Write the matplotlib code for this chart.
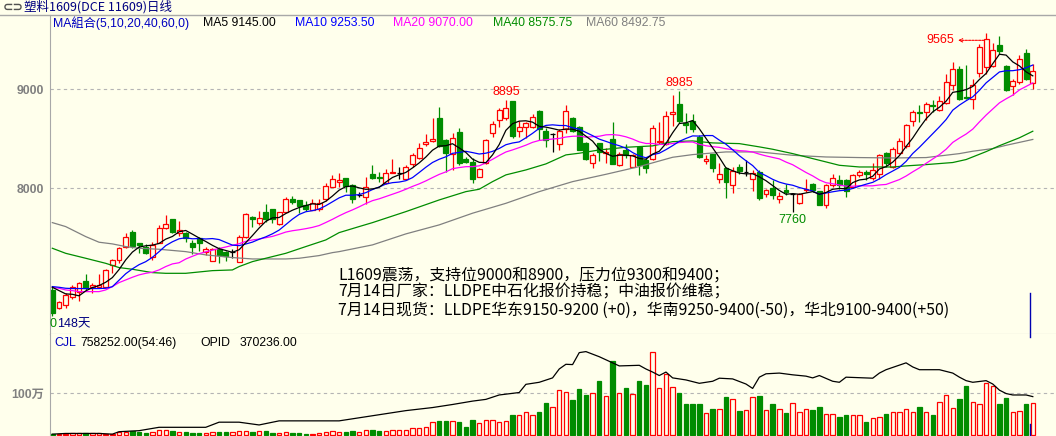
import matplotlib.pyplot as plt
import numpy as np
import pandas as pd
from matplotlib.lines import Line2D
from matplotlib.transforms import offset_copy

plt.rcParams['font.family'] = ['Liberation Sans', 'Noto Sans CJK SC', 'DejaVu Sans']

# L1609 daily bars
opens = [6973, 6788, 6822, 6906, 6956, 7064, 7000, 7000, 7007, 7222,
         7276, 7411, 7556, 7444, 7404, 7310, 7451, 7596, 7687, 7552,
         7552, 7451, 7502, 7360, 7269, 7384, 7360, 7354, 7259, 7512,
         7714, 7653, 7758, 7788, 7636, 7764, 7889, 7882, 7832, 7781,
         7788, 7889, 8017, 8061, 8101, 8034, 7933, 7916, 8141, 8118,
         8051, 8158, 8152, 8091, 8246, 8303, 8448, 8481, 8707, 8488,
         8347, 8566, 8296, 8263, 8118, 8253, 8556, 8690, 8714, 8882,
         8583, 8616, 8616, 8781, 8583, 8545, 8448, 8596, 8707, 8623,
         8461, 8259, 8455, 8360, 8495, 8236, 8387, 8219, 8414, 8286,
         8293, 8465, 8448, 8751, 8852, 8663, 8683, 8519, 8276, 8343,
         8098, 8205, 8030, 8215, 8165, 8098, 8165, 7946, 8003, 7896,
         7980, 7939, 7852, 7980, 8040, 7970, 7835, 8037, 8081, 8081,
         8013, 8131, 8165, 8108, 8148, 8357, 8215, 8360, 8424, 8680,
         8771, 8771, 8845, 8788, 8865, 9047, 9209, 8923, 8906, 9168,
         9226, 9236, 9444, 9232, 9030, 9074, 9370, 9067]
highs = [7007, 6862, 6939, 7024, 7050, 7131, 7040, 7131, 7182, 7286,
         7404, 7545, 7579, 7451, 7434, 7461, 7630, 7731, 7690, 7670,
         7562, 7478, 7512, 7411, 7394, 7404, 7362, 7384, 7529, 7754,
         7721, 7774, 7842, 7790, 7764, 7909, 7923, 7884, 7872, 7889,
         7889, 8051, 8135, 8152, 8108, 8040, 7966, 8118, 8236, 8168,
         8192, 8293, 8219, 8236, 8354, 8461, 8545, 8707, 8825, 8495,
         8556, 8606, 8320, 8303, 8202, 8495, 8680, 8808, 8895, 8885,
         8680, 8673, 8751, 8791, 8606, 8562, 8596, 8842, 8724, 8630,
         8464, 8354, 8458, 8404, 8673, 8364, 8445, 8343, 8428, 8320,
         8640, 8673, 8781, 8943, 8985, 8764, 8754, 8535, 8333, 8350,
         8256, 8215, 8215, 8249, 8290, 8189, 8182, 7997, 8081, 7963,
         8047, 7953, 7953, 8098, 8054, 7973, 8047, 8148, 8138, 8098,
         8141, 8189, 8189, 8259, 8350, 8367, 8418, 8512, 8653, 8795,
         8838, 8872, 8889, 8929, 9158, 9276, 9232, 9242, 9108, 9455,
         9565, 9468, 9539, 9242, 9108, 9343, 9411, 9259]
lows = [6710, 6780, 6788, 6879, 6865, 6973, 6946, 6990, 7000, 7141,
        7249, 7394, 7394, 7343, 7337, 7276, 7444, 7586, 7552, 7519,
        7461, 7333, 7370, 7327, 7262, 7242, 7269, 7293, 7255, 7495,
        7613, 7630, 7663, 7653, 7633, 7758, 7842, 7754, 7774, 7778,
        7774, 7875, 8010, 8017, 7966, 7855, 7909, 7842, 8091, 8067,
        8048, 8152, 8091, 8084, 8219, 8293, 8428, 8471, 8421, 8168,
        8185, 8236, 8259, 8051, 8111, 8242, 8515, 8623, 8690, 8505,
        8522, 8512, 8606, 8488, 8421, 8370, 8387, 8562, 8572, 8384,
        8290, 8202, 8279, 8253, 8243, 8226, 8303, 8212, 8135, 8152,
        8286, 8448, 8438, 8630, 8663, 8556, 8572, 8310, 8249, 8165,
        8054, 7902, 7953, 8141, 8121, 7973, 7879, 7912, 7889, 7852,
        7929, 7760, 7845, 7963, 7963, 7828, 7801, 8013, 7997, 7912,
        8007, 8114, 8081, 8088, 8098, 8215, 8209, 8350, 8407, 8626,
        8670, 8687, 8771, 8781, 8855, 8990, 8889, 8906, 8805, 9124,
        9158, 9226, 9360, 8983, 8940, 9057, 9091, 9007]
closes = [6744, 6855, 6923, 7007, 7040, 6990, 7024, 7024, 7175, 7276,
          7394, 7512, 7418, 7428, 7343, 7428, 7596, 7636, 7562, 7579,
          7495, 7411, 7444, 7384, 7384, 7327, 7317, 7354, 7512, 7741,
          7687, 7697, 7690, 7690, 7758, 7889, 7865, 7825, 7788, 7848,
          7855, 8027, 8091, 8084, 8024, 7889, 7933, 8017, 8101, 8108,
          8152, 8168, 8152, 8219, 8337, 8404, 8465, 8498, 8428, 8354,
          8505, 8253, 8269, 8091, 8192, 8488, 8646, 8791, 8808, 8529,
          8616, 8663, 8724, 8596, 8488, 8545, 8583, 8781, 8583, 8387,
          8293, 8337, 8370, 8370, 8246, 8347, 8337, 8337, 8236, 8209,
          8606, 8481, 8731, 8774, 8680, 8640, 8596, 8316, 8293, 8205,
          8148, 8064, 8175, 8175, 8165, 8155, 7906, 7980, 7929, 7919,
          7963, 7939, 7946, 7997, 7986, 7828, 8030, 8108, 8037, 7973,
          8138, 8165, 8148, 8182, 8340, 8256, 8394, 8475, 8643, 8771,
          8761, 8855, 8828, 8879, 9074, 9209, 8906, 8912, 9040, 9428,
          9512, 9401, 9387, 8997, 9084, 9310, 9101, 9185]
# volume in thousand lots
volumes = [17, 17, 17, 25, 25, 25, 25, 25, 10, 10,
           50, 66, 83, 50, 25, 50, 107, 99, 91, 50,
           66, 41, 41, 41, 66, 66, 50, 50, 91, 74,
           66, 74, 91, 25, 41, 66, 41, 25, 17, 17,
           25, 50, 91, 50, 66, 83, 50, 116, 99, 74,
           83, 99, 116, 116, 165, 165, 190, 298, 339, 339,
           339, 314, 190, 355, 289, 355, 355, 298, 330, 479,
           479, 545, 479, 537, 760, 678, 1074, 1025, 835, 1099,
           959, 1008, 1306, 926, 1777, 1000, 1132, 975, 1306, 1207,
           1992, 1124, 1455, 1149, 1008, 736, 736, 736, 529, 612,
           628, 909, 851, 562, 603, 901, 934, 603, 736, 628,
           512, 752, 554, 628, 587, 661, 504, 504, 413, 479,
           479, 463, 314, 405, 430, 488, 537, 554, 628, 537,
           661, 537, 463, 785, 950, 653, 860, 1182, 777, 727,
           1248, 1174, 736, 884, 537, 579, 736, 758]

# moving average values before the window is full (older bars are off screen)
ma5_head = [7000, 6966, 6933, 6929]
ma10_head = [7007, 7000, 6990, 6987, 6987, 6987, 6987, 6987, 6990]
ma20_head = [7000, 6990, 6973, 6966, 6956, 6956, 6956, 6956, 6973, 7007,
             7047, 7074, 7101, 7125, 7141, 7152, 7175, 7209, 7236]
ma40_days = [0, 2, 5, 8, 10, 12, 15, 17, 20, 24, 27, 28, 30, 32, 35, 38, 41, 43, 46, 48,
             53, 58, 62, 64, 66, 68, 71, 74, 77, 79, 82, 86, 90, 93, 96, 99, 103, 106, 108,
             111, 116, 118, 121, 126, 128, 131, 135, 137, 140, 142, 145, 147]
ma40_vals = [7394, 7343, 7293, 7242, 7199, 7182, 7148, 7141, 7141, 7168, 7175, 7209, 7259, 7293,
             7343, 7411, 7478, 7552, 7613, 7653, 7764, 7882, 7966, 7990, 8067, 8135, 8185, 8246,
             8337, 8354, 8387, 8414, 8428, 8471, 8478, 8458, 8451, 8418, 8394, 8350, 8266, 8232,
             8215, 8215, 8226, 8239, 8260, 8290, 8370, 8430, 8510, 8576]
ma60_days = [0, 2, 5, 7, 9, 11, 13, 16, 20, 23, 27, 30, 35, 37, 40, 42, 43, 48, 53, 58,
             63, 68, 73, 78, 83, 88, 93, 96, 101, 106, 111, 116, 121, 126, 131, 136, 138,
             141, 143, 147]
ma60_vals = [7653, 7613, 7512, 7455, 7438, 7411, 7394, 7384, 7360, 7327, 7300, 7286, 7286, 7293,
             7320, 7350, 7360, 7428, 7539, 7630, 7748, 7848, 7966, 8067, 8141, 8219, 8313, 8340,
             8367, 8367, 8333, 8316, 8310, 8306, 8310, 8350, 8374, 8401, 8434, 8493]
# open interest, thousand lots
opid_days = [0, 2, 7, 9, 10, 13, 16, 23, 25, 28, 31, 34, 43, 45, 48, 53, 57, 60, 63, 65,
             67, 70, 71, 73, 75, 76, 77, 78, 79, 80, 82, 84, 85, 88, 89, 90, 91, 92, 93, 95,
             97, 99, 100, 102, 104, 105, 106, 107, 109, 111, 113, 114, 115, 117, 118, 119, 123,
             124, 125, 128, 129, 130, 133, 135, 136, 137, 138, 140, 141, 142, 143, 144, 146, 147]
opid_vals = [3, 10, 10, 3, 27, 37, 70, 70, 120, 120, 93, 133, 133, 153, 183, 233, 263, 293, 326, 343,
             386, 410, 490, 510, 553, 640, 686, 683, 800, 810, 760, 700, 670, 676, 640, 610, 576, 610,
             553, 533, 500, 520, 550, 543, 493, 450, 560, 593, 600, 583, 570, 553, 576, 520, 510, 560,
             550, 600, 633, 700, 660, 633, 633, 600, 560, 526, 510, 526, 493, 433, 400, 386, 386, 370]

ma_names = ['MA5', 'MA10', 'MA20', 'MA40', 'MA60']
ma_last = ['9145.00', '9253.50', '9070.00', '8575.75', '8492.75']

notes = ['L1609震荡，支持位9000和8900，压力位9300和9400；',
         '7月14日厂家：LLDPE中石化报价持稳；中油报价维稳；',
         '7月14日现货：LLDPE华东9150-9200 (+0)，华南9250-9400(-50)，华北9100-9400(+50)']

bg = '#FFFFEC'
up = '#FF0000'
down = '#008C00'
frame = '#A8A8A8'
ma_colors = ['#000000', '#0000FF', '#FF00FF', '#008C00', '#808080']
W, H = 1056, 436

o = np.array(opens, dtype=float)
h = np.array(highs, dtype=float)
l = np.array(lows, dtype=float)
c = np.array(closes, dtype=float)
v = np.array(volumes, dtype=float)
x = np.arange(len(c))

cs = pd.Series(c)
ma5 = cs.rolling(5).mean().to_numpy()
ma5[:4] = ma5_head
ma10 = cs.rolling(10).mean().to_numpy()
ma10[:9] = ma10_head
ma20 = cs.rolling(20).mean().to_numpy()
ma20[:19] = ma20_head

fig = plt.figure(figsize=(W / 100, H / 100), dpi=100, facecolor=bg)
ax = fig.add_axes([50 / W, 102 / H, 1006 / W, 319 / H], facecolor=bg)
axv = fig.add_axes([50 / W, 0, 1006 / W, 102 / H], facecolor=bg)


def px(xp, yp, s, **kw):
    # place text by screen pixel
    fig.text(xp / W, 1 - yp / H, s, va='center', **kw)


# candles
rise = c > o
fall = c < o
flat = c == o
bw = 0.74
ax.vlines(x[rise], l[rise], o[rise], color=up, lw=0.9, zorder=2)
ax.vlines(x[rise], c[rise], h[rise], color=up, lw=0.9, zorder=2)
ax.bar(x[rise], (c - o)[rise], bottom=o[rise], width=bw, facecolor=bg, edgecolor=up, lw=0.9, zorder=2)
ax.vlines(x[fall], l[fall], h[fall], color=down, lw=0.9, zorder=2)
ax.bar(x[fall], (o - c)[fall], bottom=c[fall], width=bw, color=down, edgecolor=down, lw=0.9, zorder=2)
ax.vlines(x[flat], l[flat], h[flat], color='black', lw=0.9, zorder=2)
ax.hlines(o[flat], x[flat] - bw / 2, x[flat] + bw / 2, color='black', lw=0.9, zorder=2)

ax.plot(ma60_days, ma60_vals, color=ma_colors[4], lw=0.9, zorder=3)
ax.plot(ma40_days, ma40_vals, color=ma_colors[3], lw=0.9, zorder=3)
ax.plot(x, ma20, color=ma_colors[2], lw=0.9, zorder=3)
ax.plot(x, ma10, color=ma_colors[1], lw=0.9, zorder=3)
ax.plot(x, ma5, color=ma_colors[0], lw=0.9, zorder=3)

ax.set_xlim(-0.35, 150.48)
ax.set_ylim(6528, 9750)
ax.set_yticks([8000, 9000])
ax.set_yticklabels(['8000', '9000'], fontweight='bold', color='#808080', fontsize=8.8)
ax.yaxis.grid(True, color='#B4B4B4', lw=0.8, ls=(0, (3, 3)))
ax.set_axisbelow(True)
ax.tick_params(axis='y', length=0, pad=4)
ax.tick_params(axis='x', bottom=False, labelbottom=False)
for side in ['right', 'top']:
    ax.spines[side].set_visible(False)
ax.spines['left'].set_color(frame)
ax.spines['bottom'].set_color(frame)

# high / low labels
for i in [68, 94]:
    ax.annotate(str(highs[i]), xy=(i, highs[i]), xytext=(0, 2), textcoords='offset pixels',
                ha='center', va='bottom', color=up, fontsize=9)
ax.annotate(str(lows[111]), xy=(111, lows[111]), xytext=(0, -2), textcoords='offset pixels',
            ha='center', va='top', color=down, fontsize=9)
top = int(np.argmax(h))
ax.annotate(str(highs[top]), xy=(top, highs[top]), xytext=(-32, -7), textcoords='offset pixels',
            ha='right', va='center', color=up, fontsize=9)
a_end = offset_copy(ax.transData, fig=fig, x=-28, y=-7, units='dots')
a_start = offset_copy(ax.transData, fig=fig, x=-2, y=-7, units='dots')
ax.annotate('', xy=(top, highs[top]), xycoords=a_end, xytext=(top, highs[top]), textcoords=a_start,
            arrowprops=dict(arrowstyle='->', color=up, lw=0.8, ls=(0, (2, 1)),
                            shrinkA=0, shrinkB=0, mutation_scale=6))

# cursor line
ax.axvline(146.6, ymin=0, ymax=41 / 319, color='#0000B0', lw=1)
axv.axvline(146.6, ymin=0, ymax=12 / 102, color='#0000B0', lw=1)
axv.axvline(146.6, ymin=0.97, ymax=1, color='#0000B0', lw=1)

# volume panel
vr = c >= o
axv.bar(x[vr], v[vr], width=0.66, facecolor=bg, edgecolor=up, lw=0.9)
axv.bar(x[~vr], v[~vr], width=0.66, color=down, edgecolor=down, lw=0.9)
axv.set_xlim(-0.35, 150.48)
axv.set_ylim(-36, 2433)
axv.set_yticks([1000])
axv.set_yticklabels(['100万'], fontweight='bold', color='#808080', fontsize=8.8)
axv.yaxis.grid(True, color='#B4B4B4', lw=0.8, ls=(0, (3, 3)))
axv.set_axisbelow(True)
axv.tick_params(axis='y', length=0, pad=4)
axv.tick_params(axis='x', bottom=False, labelbottom=False)
for side in ['right', 'top', 'bottom']:
    axv.spines[side].set_visible(False)
axv.spines['left'].set_color(frame)

axo = axv.twinx()
axo.plot(opid_days, opid_vals, color='black', lw=0.9)
axo.set_xlim(-0.35, 150.48)
axo.set_ylim(-15, 982)
axo.set_yticks([])
for side in axo.spines:
    axo.spines[side].set_visible(False)

# header and line under it
fig.add_artist(Line2D([0, 1], [1 - 15.5 / H] * 2, color=frame, lw=1))
px(3, 7, '⊂⊃', color='#505050', fontsize=9, family='DejaVu Sans', fontweight='bold')
px(24, 7, '塑料1609(DCE 11609)日线', color='#000080', fontsize=9, family=['Noto Sans CJK SC', 'DejaVu Sans'])

# MA legend
px(53, 23, 'MA組合(5,10,20,40,60,0)', color='#0000C0', fontsize=8.8)
for xp, name, val, col in zip([203, 295, 393, 493, 586], ma_names, ma_last, ma_colors):
    px(xp, 23, name + ' ' + val, color=col, fontsize=8.8)

px(50, 324, '0', color=down, fontsize=9)
px(57, 324, '148天', color='#000080', fontsize=9)

for k, s in enumerate(notes):
    px(338, 275 + 17.5 * k, s, color='black', fontsize=11.4, family=['Noto Sans CJK SC', 'DejaVu Sans'])

# volume legend
px(54, 343, 'CJL', color='#0000C0', fontsize=8.8)
px(80, 343, '758252.00(54:46)', color='black', fontsize=8.8)
px(200, 343, 'OPID', color='black', fontsize=8.8)
px(240, 343, '370236.00', color='black', fontsize=8.8)

fig.savefig('out.png', dpi=100, facecolor=bg)
